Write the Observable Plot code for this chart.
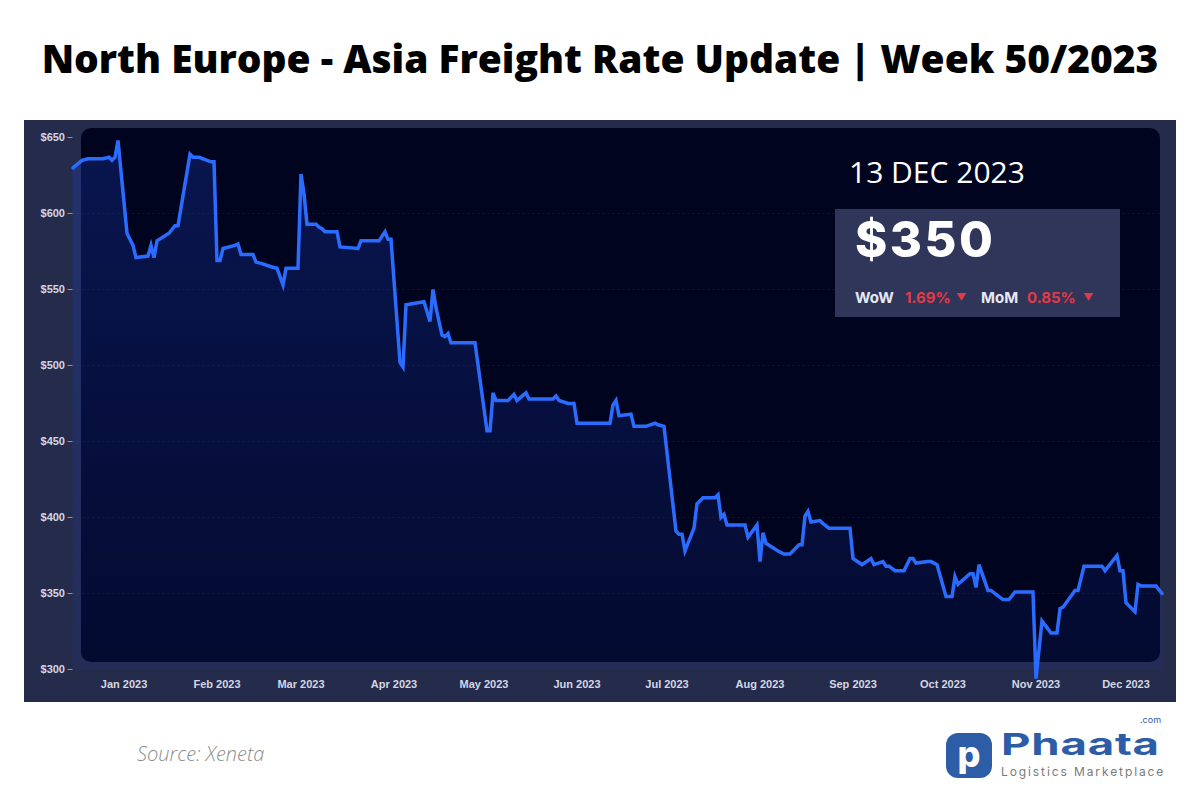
<!DOCTYPE html>
<html>
<head>
<meta charset="utf-8">
<script src="https://cdn.jsdelivr.net/npm/d3@7"></script>
<script src="https://cdn.jsdelivr.net/npm/@observablehq/plot@0.6"></script>
<style>
  html, body { margin: 0; padding: 0; background: #ffffff; }
  #page { position: relative; width: 1200px; height: 800px; overflow: hidden; background: #fff; }
  #title { position: absolute; left: 0; top: 31px; width: 1200px; text-align: center; white-space: nowrap;
    font-family: "Open Sans", sans-serif; font-weight: 800; font-size: 38.9px; color: #000; }
  #panel { position: absolute; left: 24px; top: 120px; width: 1152px; height: 582px; background: #252b4b; }
  #inner { position: absolute; left: 81px; top: 128px; width: 1079px; height: 534px; background: #01041f; border-radius: 10px; }
  #chart { position: absolute; left: 24px; top: 120px; }
  #date { position: absolute; left: 849px; top: 151px; font-family: "Open Sans", sans-serif; font-size: 30px; color: #fff; }
  #box { position: absolute; left: 835px; top: 209px; width: 285px; height: 108px; background: #30355a; }
  #price { position: absolute; left: 20px; top: 1px; font-family: Inter, sans-serif; font-weight: 800; font-size: 49px; color: #fff; letter-spacing: 2.5px; }
  .stat { position: absolute; top: 81px; font-family: Inter, sans-serif; font-weight: 700; font-size: 15px; line-height: 15px; color: #e6e8f2; white-space: nowrap; }
  .red { color: #e23b48; }
  .caret { font-size: 10px; line-height: 15px; }
  #source { position: absolute; left: 137px; top: 740px; font-family: "Open Sans", sans-serif; font-style: italic; font-weight: 300; font-size: 20px; color: #8c8c8c; }
  #logo-icon { position: absolute; left: 946px; top: 733px; width: 46px; height: 45px; background: #2e5da8; border-radius: 12px;
    color: #fff; font-family: Inter, sans-serif; font-weight: 800; font-size: 36px; line-height: 42px; text-align: center; }
  #logo-text { position: absolute; left: 1001px; top: 729px; font-family: Inter, sans-serif; font-weight: 700; font-size: 30px; line-height: 30px;
    color: #2e5da8; letter-spacing: 0.5px; transform: scaleX(1.52); transform-origin: 0 0; }
  #logo-com { position: absolute; left: 1140px; top: 715px; font-family: Inter, sans-serif; font-size: 9px; line-height: 10px; color: #2e5da8; }
  #logo-sub { position: absolute; left: 1001px; top: 765px; font-family: Inter, sans-serif; font-size: 12px; line-height: 13px; color: #7a7a7a; letter-spacing: 1.9px; }
</style>
</head>
<body>
<div id="page">
  <div id="title">North Europe - Asia Freight Rate Update | Week 50/2023</div>
  <div id="panel"></div>
  <div id="inner"></div>
  <div id="chart"></div>
  <div id="date">13 DEC 2023</div>
  <div id="box">
    <div id="price">$350</div>
    <div class="stat" style="left:20px">WoW</div>
    <div class="stat red" style="left:70px">1.69%</div>
    <div class="stat red caret" style="left:121px">&#9660;</div>
    <div class="stat" style="left:146px">MoM</div>
    <div class="stat red" style="left:192px">0.85%</div>
    <div class="stat red caret" style="left:248px">&#9660;</div>
  </div>
  <div id="source">Source: Xeneta</div>
  <div id="logo-icon">p</div>
  <div id="logo-text">Phaata</div>
  <div id="logo-com">.com</div>
  <div id="logo-sub">Logistics Marketplace</div>
</div>
<script>
const dates = [
  "2022-12-15","2022-12-18","2022-12-20","2022-12-25","2022-12-27","2022-12-28","2022-12-29","2022-12-30",
  "2023-01-02","2023-01-04","2023-01-05","2023-01-09","2023-01-10","2023-01-11","2023-01-12","2023-01-16",
  "2023-01-18","2023-01-19","2023-01-23","2023-01-24","2023-01-26","2023-01-30","2023-01-31",
  "2023-02-01","2023-02-02","2023-02-03","2023-02-07","2023-02-08","2023-02-09","2023-02-13","2023-02-14",
  "2023-02-16","2023-02-19","2023-02-21","2023-02-23","2023-02-24","2023-02-28",
  "2023-03-01","2023-03-02","2023-03-03","2023-03-06","2023-03-07","2023-03-08","2023-03-09","2023-03-13",
  "2023-03-14","2023-03-20","2023-03-21","2023-03-27","2023-03-29","2023-03-30","2023-03-31",
  "2023-04-03","2023-04-04","2023-04-05","2023-04-11","2023-04-13","2023-04-14","2023-04-15","2023-04-17",
  "2023-04-18","2023-04-19","2023-04-20","2023-04-28",
  "2023-05-02","2023-05-03","2023-05-04","2023-05-05","2023-05-09","2023-05-11","2023-05-12","2023-05-15",
  "2023-05-16","2023-05-24","2023-05-25","2023-05-26","2023-05-29","2023-05-31",
  "2023-06-01","2023-06-12","2023-06-13","2023-06-14","2023-06-15","2023-06-19","2023-06-20","2023-06-24",
  "2023-06-27","2023-06-28","2023-06-30",
  "2023-07-04","2023-07-05","2023-07-06","2023-07-07","2023-07-10","2023-07-11","2023-07-13","2023-07-17",
  "2023-07-18","2023-07-19","2023-07-20","2023-07-21","2023-07-27","2023-07-28","2023-07-31",
  "2023-08-01","2023-08-02","2023-08-03","2023-08-07","2023-08-09","2023-08-11","2023-08-14","2023-08-15",
  "2023-08-16","2023-08-17","2023-08-18","2023-08-21","2023-08-22","2023-08-24","2023-08-31",
  "2023-09-01","2023-09-04","2023-09-07","2023-09-08","2023-09-11","2023-09-12","2023-09-13","2023-09-15",
  "2023-09-18","2023-09-20","2023-09-21","2023-09-22","2023-09-26","2023-09-27","2023-09-29",
  "2023-10-02","2023-10-04","2023-10-05","2023-10-06","2023-10-10","2023-10-11","2023-10-12","2023-10-13",
  "2023-10-16","2023-10-17","2023-10-19","2023-10-21","2023-10-23","2023-10-25","2023-10-31",
  "2023-11-01","2023-11-03","2023-11-06","2023-11-08","2023-11-09","2023-11-10","2023-11-14","2023-11-15",
  "2023-11-17","2023-11-23","2023-11-24","2023-11-28","2023-11-29","2023-11-30",
  "2023-12-01","2023-12-04","2023-12-05","2023-12-06","2023-12-11","2023-12-13"
];
const rates = [
  630,635,636,636,637,635,637,648,
  587,579,571,572,579,571,582,587,
  592,592,639,637,637,634,634,
  569,569,577,579,580,573,573,568,
  567,565,564,553,564,564,
  626,613,593,593,591,590,588,588,
  578,577,582,582,588,583,583,
  502,499,540,542,529,550,538,520,
  519,521,515,515,
  457,457,482,477,477,481,477,482,
  478,478,480,477,475,475,
  462,462,474,477,467,468,460,460,
  462,461,460,
  391,389,389,378,393,409,413,413,
  415,400,402,395,395,387,395,
  371,390,383,378,376,376,382,382,
  401,404,397,398,396,393,393,
  373,369,373,369,371,368,368,365,
  365,373,373,370,371,371,369,
  348,348,361,356,363,363,354,369,
  352,352,349,346,346,351,351,
  294,332,324,324,340,341,352,352,
  368,368,365,375,365,365,
  344,338,356,355,355,350
];
const yTicks = [300, 350, 400, 450, 500, 550, 600, 650];
const monthTicks = ["2023-01-01","2023-02-01","2023-03-01","2023-04-01","2023-05-01","2023-06-01",
  "2023-07-01","2023-08-01","2023-09-01","2023-10-01","2023-11-01","2023-12-01"];
const xStart = "2022-12-15";
const xEnd = "2023-12-13";

const data = dates.map((d, i) => ({date: new Date(d), rate: rates[i]}));

const defs = () => {
  const ns = "http://www.w3.org/2000/svg";
  const d = document.createElementNS(ns, "defs");
  const g = document.createElementNS(ns, "linearGradient");
  g.setAttribute("id", "areaGrad");
  g.setAttribute("x1", "0"); g.setAttribute("y1", "0");
  g.setAttribute("x2", "0"); g.setAttribute("y2", "1");
  [["0%", "#1a3fc0", 0.3], ["100%", "#1a3fc0", 0.1]].forEach(([o, c, op]) => {
    const s = document.createElementNS(ns, "stop");
    s.setAttribute("offset", o); s.setAttribute("stop-color", c); s.setAttribute("stop-opacity", op);
    g.appendChild(s);
  });
  d.appendChild(g);
  return d;
};

const chart = Plot.plot({
  width: 1152,
  height: 582,
  marginLeft: 48.5,
  marginRight: 14.5,
  marginTop: 17,
  marginBottom: 33,
  style: {background: "transparent", fontFamily: "'Liberation Sans', Arial, sans-serif", fontSize: "11px", fontWeight: "bold", color: "#d4d7e3", overflow: "visible"},
  x: {type: "utc", domain: [new Date(xStart), new Date(xEnd)], label: null},
  y: {domain: [300, 650], label: null},
  marks: [
    defs,
    Plot.gridY(yTicks.slice(1, -1), {stroke: "#ffffff", strokeOpacity: 0.07, strokeDasharray: "2,3"}),
    Plot.areaY(data, {x: "date", y1: 300, y2: "rate", fill: "url(#areaGrad)"}),
    Plot.lineY(data, {x: "date", y: "rate", stroke: "#2a6cff", strokeWidth: 3.5, strokeLinejoin: "miter", strokeMiterlimit: 4}),
    Plot.axisY(yTicks, {tickFormat: d => "$" + d, tickSize: 5, tickPadding: 3, stroke: "#8a90aa", fill: "#d4d7e3", label: null}),
    Plot.axisX(monthTicks.map(d => new Date(d)), {tickFormat: d3.utcFormat("%b %Y"), tickSize: 0, tickPadding: 11, fill: "#d4d7e3", label: null})
  ]
});
document.getElementById("chart").appendChild(chart);
</script>
</body>
</html>
